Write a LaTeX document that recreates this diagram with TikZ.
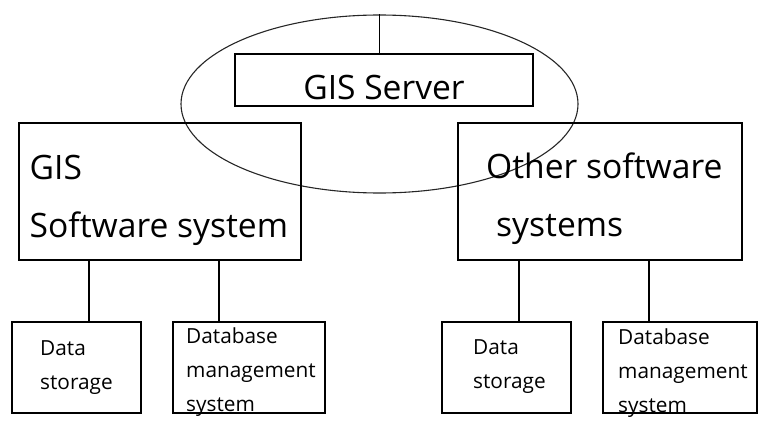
\documentclass[tikz,border=0pt]{standalone}
\usepackage{fontspec}
\setmainfont{Open Sans}
\usetikzlibrary{positioning,shapes.geometric}
\tikzset{
  box/.style={draw=black, line width=1.6pt, inner sep=0pt},
  ring/.style={ellipse, draw=black!85, line width=1.1pt, inner sep=0pt},
  link/.style={draw=black, line width=1.6pt},
  bigtxt/.style={font=\fontsize{33.6}{58}\selectfont, align=left, inner sep=0pt, anchor=north west},
  smalltxt/.style={font=\fontsize{20.8}{34}\selectfont, align=left, inner sep=0pt, anchor=north west},
}
\begin{document}
\begin{tikzpicture}[x=1pt, y=-1pt]
  \useasboundingbox (0,0) rectangle (768,428);
  % top part
  \node[ring, minimum width=397pt, minimum height=178pt] (rng) at (379.5,104) {};
  \node[box, minimum width=298pt, minimum height=52pt, font=\fontsize{33.6}{40}\selectfont,
        text height=45pt, text depth=6pt] (srv) at (384,80) {GIS Server};
  % software systems
  \node[box, minimum width=282pt, minimum height=137pt] (gis) at (160,191.5) {};
  \node[box, minimum width=284pt, minimum height=137pt] (oth) at (600,191.5) {};
  \node[bigtxt] (gist) at (29.5,155) {GIS\\Software system};
  \node[bigtxt] (otht) at (486,153) {Other software\\\hspace*{10pt}systems};
  % storage boxes
  \node[box, minimum width=129pt, minimum height=91pt] (dsa) at (76.5,367.5) {};
  \node[box, minimum width=152pt, minimum height=91pt] (dba) at (249,367.5) {};
  \node[box, minimum width=129pt, minimum height=91pt] (dsb) at (506.5,367.5) {};
  \node[box, minimum width=154pt, minimum height=91pt] (dbb) at (680,367.5) {};
  \node[smalltxt] (dsat) at (40,340) {Data\\storage};
  \node[smalltxt] (dbat) at (186,327) {Database\\management\\system};
  \node[smalltxt] (dsbt) at (473,339) {Data\\storage};
  \node[smalltxt] (dbbt) at (618,328) {Database\\management\\system};
  % connectors
  \coordinate (ca) at (89,0);
  \coordinate (cb) at (219,0);
  \coordinate (cc) at (519,0);
  \coordinate (cd) at (649,0);
  \draw[link] (rng.north) -- (rng.north |- srv.north);
  \draw[link] (ca |- gis.south) -- (ca |- dsa.north);
  \draw[link] (cb |- gis.south) -- (cb |- dba.north);
  \draw[link] (cc |- oth.south) -- (cc |- dsb.north);
  \draw[link] (cd |- oth.south) -- (cd |- dbb.north);
\end{tikzpicture}
\end{document}
